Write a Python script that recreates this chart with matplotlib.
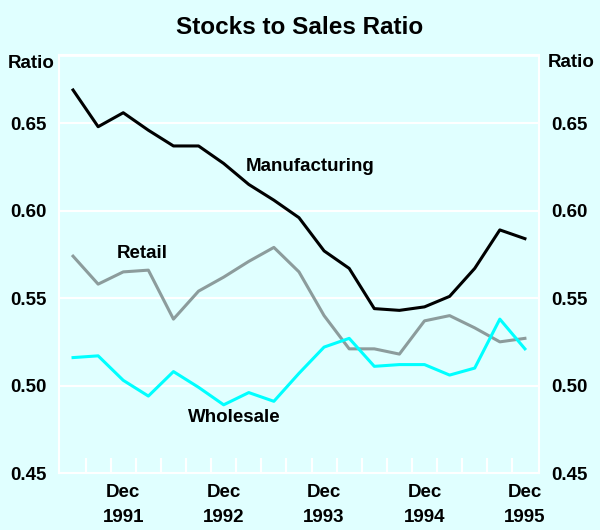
import numpy as np
from matplotlib import pyplot as plt

plt.rcParams['font.family'] = ['Liberation Sans', 'DejaVu Sans']

# quarterly, Jun 1991 .. Dec 1995
quarters = np.arange(19)
manufacturing = [0.669, 0.648, 0.656, 0.646, 0.637, 0.637, 0.627, 0.615, 0.606, 0.596,
                 0.577, 0.567, 0.544, 0.543, 0.545, 0.551, 0.567, 0.589, 0.584]
retail = [0.574, 0.558, 0.565, 0.566, 0.538, 0.554, 0.562, 0.571, 0.579, 0.565,
          0.540, 0.521, 0.521, 0.518, 0.537, 0.540, 0.533, 0.525, 0.527]
wholesale = [0.516, 0.517, 0.503, 0.494, 0.508, 0.499, 0.489, 0.496, 0.491, 0.507,
             0.522, 0.527, 0.511, 0.512, 0.512, 0.506, 0.510, 0.538, 0.521]
dec_idx = [2, 6, 10, 14, 18]
dec_labels = ['Dec\n1991', 'Dec\n1992', 'Dec\n1993', 'Dec\n1994', 'Dec\n1995']
yticks = [0.45, 0.50, 0.55, 0.60, 0.65]

bg = '#E0FFFF'
fs = 13.5
fig = plt.figure(figsize=(6, 5.3), dpi=100, facecolor=bg)
ax = fig.add_axes([0.0983, 0.1075, 0.8, 0.7887], facecolor=bg)

ax.plot(quarters, manufacturing, color='black', lw=2.2)
ax.plot(quarters, retail, color='#8C9C9C', lw=2.2)
ax.plot(quarters, wholesale, color='#00FFFF', lw=2.2)

ax.set_xlim(-0.56, 18.56)
ax.set_ylim(0.45, 0.689)

for s in ax.spines.values():
    s.set_color('white')
    s.set_linewidth(1.5)
for y in yticks[1:]:
    ax.axhline(y, color='white', lw=1.5, zorder=0)
ax.axhline(0.689, color='white', lw=2, zorder=0)

ax.set_xticks(np.arange(18) + 0.5)
ax.set_xticklabels([])
ax.tick_params(axis='x', direction='in', length=11, width=1.5, color='white')
for i, lab in zip(dec_idx, dec_labels):
    ax.text(i, 0.4435, lab, ha='center', va='top', fontsize=fs, fontweight='bold',
            linespacing=1.6)

ax.set_yticks(yticks)
ax.set_yticklabels(['%.2f' % v for v in yticks], fontsize=fs, fontweight='bold')
ax.tick_params(axis='y', length=0, pad=9, labelright=True, right=False)

ax.text(-0.72, 0.684, 'Ratio', ha='right', va='center', fontsize=fs, fontweight='bold')
ax.text(19.84, 0.685, 'Ratio', ha='center', va='center', fontsize=fs, fontweight='bold')

ax.text(9.44, 0.625, 'Manufacturing', ha='center', va='center', fontsize=fs, fontweight='bold')
ax.text(2.75, 0.5755, 'Retail', ha='center', va='center', fontsize=fs, fontweight='bold')
ax.text(6.41, 0.4818, 'Wholesale', ha='center', va='center', fontsize=fs, fontweight='bold')

fig.text(0.5, 0.948, 'Stocks to Sales Ratio', ha='center', va='center', fontsize=17.5,
         fontweight='bold')

fig.savefig('out.png', dpi=100, facecolor=bg)
